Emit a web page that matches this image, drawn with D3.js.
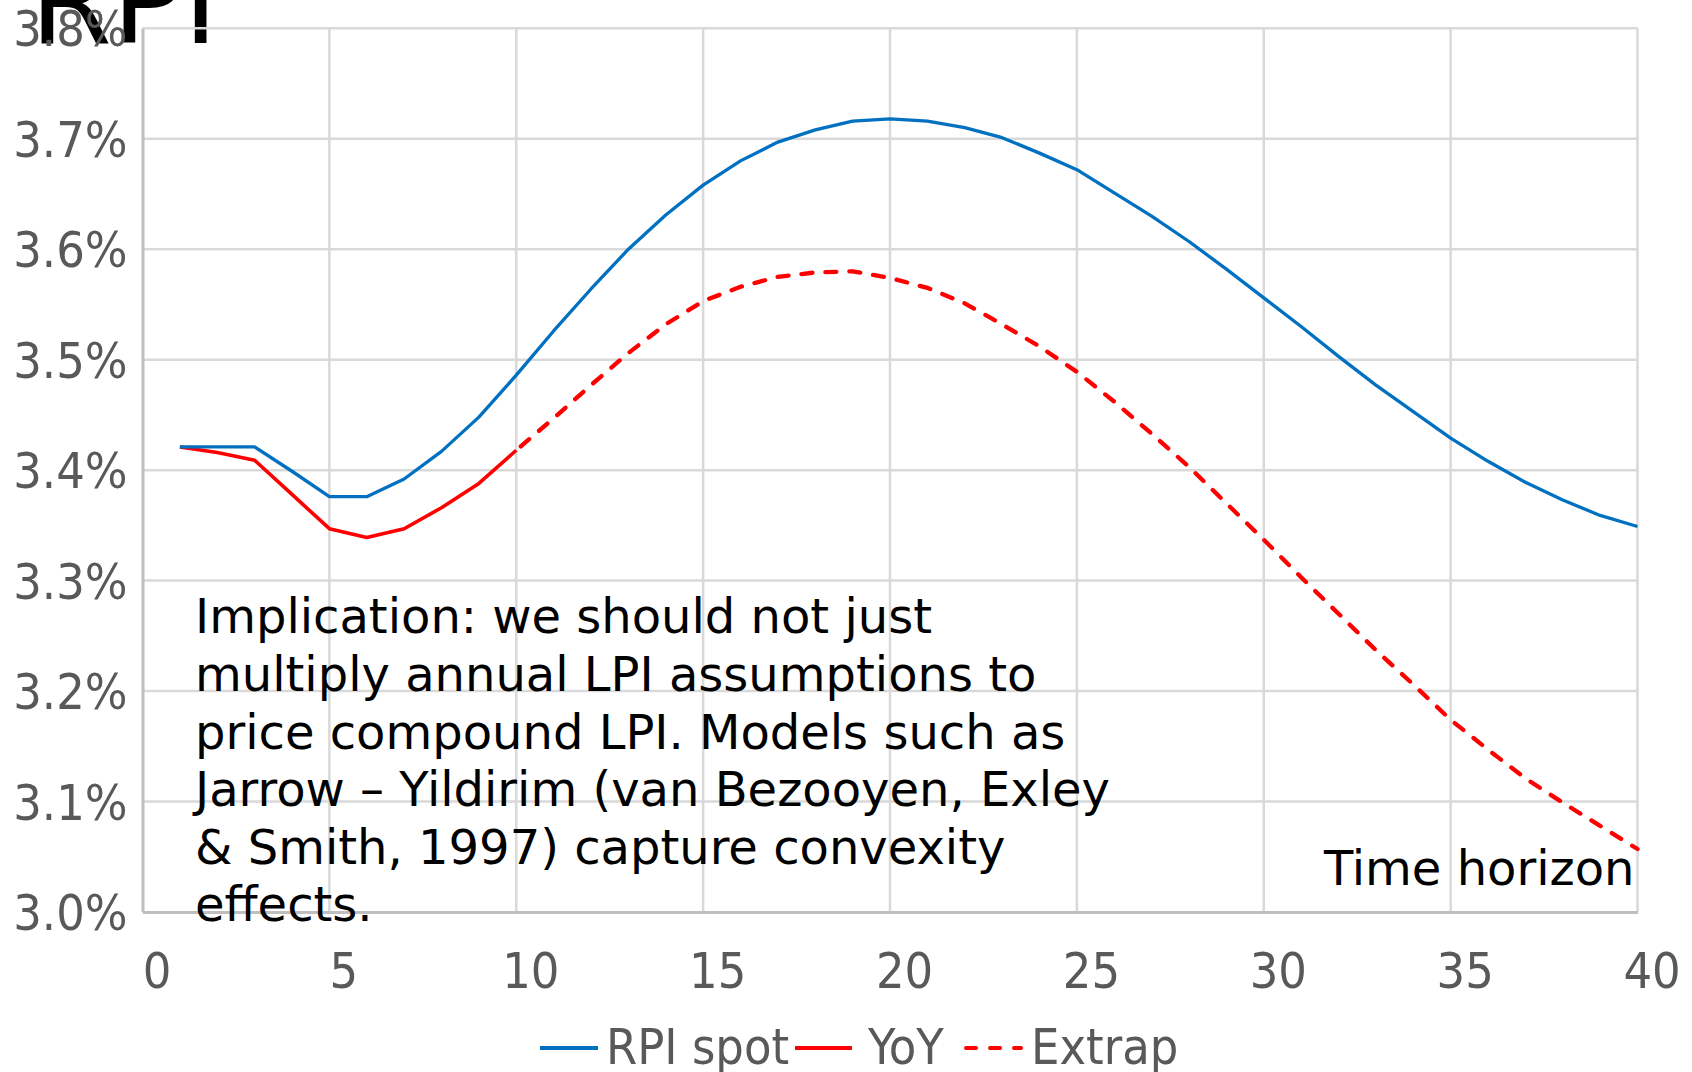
<!DOCTYPE html>
<html><head><meta charset="utf-8">
<script src="https://cdn.jsdelivr.net/npm/d3@7/dist/d3.min.js"></script>
<style>
html,body{margin:0;padding:0;background:#fff;}
svg{display:block;}
.cond{font-family:"DejaVu Sans Condensed","DejaVu Sans",sans-serif;font-stretch:condensed;}
</style></head>
<body>
<svg id="chart" width="1692" height="1072"></svg>
<script>
// ---- data ----
const title = "RPI";
const years = d3.range(1, 41);
const rpiSpot = [3.421,3.421,3.421,3.399,3.376,3.376,3.392,3.417,3.448,3.486,
                 3.526,3.564,3.600,3.631,3.658,3.680,3.697,3.708,3.716,3.718,
                 3.716,3.710,3.701,3.687,3.672,3.651,3.630,3.607,3.582,3.556,
                 3.530,3.503,3.477,3.453,3.429,3.408,3.389,3.373,3.359,3.349];
const yoyYears = d3.range(1, 11);
const yoy = [3.421,3.416,3.409,3.378,3.347,3.339,3.347,3.366,3.388,3.418];
const extrapYears = d3.range(10, 41);
const extrap = [3.418,3.447,3.477,3.506,3.532,3.553,3.566,3.575,3.579,3.580,
                3.574,3.565,3.551,3.532,3.512,3.489,3.462,3.433,3.403,3.370,
                3.337,3.303,3.270,3.237,3.206,3.174,3.147,3.121,3.099,3.078,3.057];
const xTicks = [0,5,10,15,20,25,30,35,40];
const yTicks = [3.0,3.1,3.2,3.3,3.4,3.5,3.6,3.7,3.8];
const seriesNames = ["RPI spot","YoY","Extrap"];
const annotation = ["Implication: we should not just",
  "multiply annual LPI assumptions to",
  "price compound LPI. Models such as",
  "Jarrow \u2013 Yildirim (van Bezooyen, Exley",
  "& Smith, 1997) capture convexity",
  "effects."];
const axisTitle = "Time horizon";

// ---- layout ----
const svg = d3.select("#chart");
const L = 142.5, R = 1637.5, T = 28.3, B = 912;
const x = d3.scaleLinear().domain([0,40]).range([L,R]);
const y = d3.scaleLinear().domain([3.0,3.8]).range([B,T]);
const blue = "#0070C0", red = "#FF0000", grid = "#D9D9D9", txt = "#595959";
const fs = 50;

// title (drawn first; axis labels overlap it)
svg.append("text").attr("x",30).attr("y",43)
  .attr("font-family","DejaVu Sans").attr("font-size",118).attr("fill","#000")
  .text(title);

// gridlines
const g = svg.append("g");
g.selectAll(".hg").data(yTicks.filter(v=>v>3.0)).join("line")
  .attr("x1",L).attr("x2",R).attr("y1",d=>y(d)).attr("y2",d=>y(d))
  .attr("stroke",grid).attr("stroke-width",2.5);
g.selectAll(".vg").data(xTicks.filter(v=>v>0)).join("line")
  .attr("x1",d=>x(d)).attr("x2",d=>x(d)).attr("y1",T).attr("y2",B)
  .attr("stroke",grid).attr("stroke-width",2.5);

// axes via d3
const yAxis = svg.append("g").attr("transform",`translate(${L},0)`)
  .call(d3.axisLeft(y).tickValues(yTicks).tickSize(0).tickPadding(15)
        .tickFormat(d=>d.toFixed(1)+"%"));
yAxis.select(".domain").attr("stroke","#BFBFBF").attr("stroke-width",3);
yAxis.selectAll("text").attr("class","cond").attr("font-size",fs).attr("fill",txt)
  .attr("dy","0.35em");

const xAxis = svg.append("g").attr("transform",`translate(0,${B})`)
  .call(d3.axisBottom(x).tickValues(xTicks).tickSize(0).tickPadding(0)
        .tickFormat(d3.format("d")));
xAxis.select(".domain").attr("stroke","#BFBFBF").attr("stroke-width",3);
xAxis.selectAll("text").attr("class","cond").attr("font-size",fs).attr("fill",txt)
  .attr("dy",null).attr("y",76).attr("dx",14);
svg.selectAll("g").attr("font-family",null);

// lines
const line = d3.line().x(d=>x(d[0])).y(d=>y(d[1]));
svg.append("path").datum(d3.zip(yoyYears,yoy)).attr("d",line)
  .attr("fill","none").attr("stroke",red).attr("stroke-width",3.6)
  .attr("stroke-linejoin","round");
svg.append("path").datum(d3.zip(extrapYears,extrap)).attr("d",line)
  .attr("fill","none").attr("stroke",red).attr("stroke-width",4.3)
  .attr("stroke-dasharray","11,13").attr("stroke-linecap","round")
  .attr("stroke-dashoffset",-6);
svg.append("path").datum(d3.zip(years,rpiSpot)).attr("d",line)
  .attr("fill","none").attr("stroke",blue).attr("stroke-width",3.3)
  .attr("stroke-linejoin","round");

// annotation
const ann = svg.append("text").attr("font-family","DejaVu Sans")
  .attr("font-size",48).attr("fill","#000");
ann.selectAll("tspan").data(annotation).join("tspan")
  .attr("x",195).attr("y",(d,i)=>633.3+i*57.6).text(d=>d);

svg.append("text").attr("x",1634.5).attr("y",885).attr("text-anchor","end")
  .attr("font-family","DejaVu Sans").attr("font-size",48).attr("fill","#000")
  .text(axisTitle);

// legend
const leg = svg.append("g");
const legItems = [
  {name:seriesNames[0], x1:540, x2:598, tx:606, color:blue, dash:null},
  {name:seriesNames[1], x1:795, x2:852, tx:868, color:red, dash:null},
  {name:seriesNames[2], x1:964, x2:1023, tx:1031, color:red, dash:"10,14"}
];
legItems.forEach(it=>{
  const ln = leg.append("line").attr("x1",it.x1).attr("x2",it.x2)
    .attr("y1",1048).attr("y2",1048).attr("stroke",it.color).attr("stroke-width",4);
  if(it.dash){ ln.attr("stroke-dasharray",it.dash).attr("stroke-linecap","round")
      .attr("x1",it.x1+2).attr("x2",it.x2-2); }
  leg.append("text").attr("class","cond").attr("x",it.tx).attr("y",1064)
    .attr("font-size",fs).attr("fill",txt).text(it.name);
});
</script>
</body></html>
